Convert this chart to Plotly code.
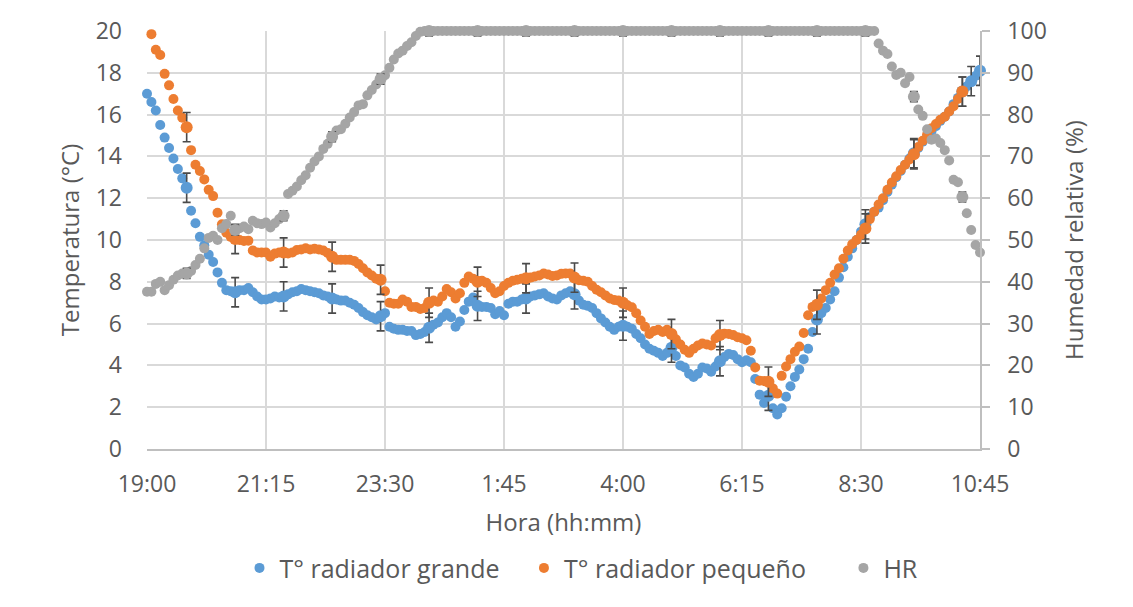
import plotly.graph_objects as go

# Minutes elapsed since 19:00 (sampling every 5 minutes)
minutos = list(range(0, 950, 5))

tick_vals = [0, 135, 270, 405, 540, 675, 810, 945]
tick_text = ["19:00", "21:15", "23:30", "1:45", "4:00", "6:15", "8:30", "10:45"]

t_grande = [
    17.0, 16.6, 16.2, 15.5, 14.9, 14.4, 13.9, 13.4, 12.95, 12.5,
    11.4, 10.8, 10.15, 9.75, 9.3, 8.95, 8.45, 7.95, 7.6, 7.55,
    7.5, 7.6, 7.6, 7.7, 7.5, 7.3, 7.15, 7.15, 7.2, 7.3,
    7.25, 7.3, 7.4, 7.5, 7.55, 7.65, 7.6, 7.55, 7.5, 7.45,
    7.35, 7.3, 7.2, 7.15, 7.1, 7.1, 7.0, 6.9, 6.75, 6.55,
    6.4, 6.3, 6.2, 6.35, 6.5, 5.85, 5.75, 5.7, 5.7, 5.65,
    5.65, 5.45, 5.5, 5.6, 5.8, 5.95, 6.05, 6.3, 6.5, 6.3,
    5.85, 6.1, 6.65, 7.05, 7.25, 6.85, 6.8, 6.8, 6.75, 6.45,
    6.6, 6.4, 6.95, 7.05, 7.05, 7.15, 7.2, 7.3, 7.35, 7.4,
    7.45, 7.3, 7.2, 7.15, 7.35, 7.45, 7.55, 7.4, 7.1, 6.9,
    6.85, 6.75, 6.5, 6.25, 6.05, 5.85, 5.7, 5.85, 5.9, 5.85,
    5.75, 5.5, 5.3, 5.0, 4.8, 4.7, 4.6, 4.45, 4.6, 4.85,
    4.45, 4.0, 3.9, 3.6, 3.45, 3.6, 3.9, 3.85, 3.7, 3.95,
    4.2, 4.4, 4.55, 4.5, 4.3, 4.15, 4.25, 4.15, 3.35, 2.6,
    2.2, 2.55, 1.95, 1.65, 1.95, 2.5, 3.0, 3.45, 3.8, 4.3,
    4.8, 5.6, 6.2, 6.5, 6.75, 7.15, 7.55, 8.2, 8.7, 9.2,
    9.6, 10.0, 10.4, 10.75, 11.1, 11.35, 11.55, 11.9, 12.3, 12.65,
    13.0, 13.3, 13.6, 13.9, 14.15, 14.4, 14.7, 14.95, 15.2, 15.45,
    15.7, 15.9, 16.15, 16.5, 16.8, 17.1, 17.35, 17.6, 17.85, 18.1,
]

t_pequeno = [
    None, 19.85, 19.1, 18.85, 17.95, 17.4, 16.75, 16.2, 15.85, 15.4,
    14.3, 13.6, 13.3, 12.9, 12.4, 12.1, 11.3, 10.75, 10.35, 10.15,
    10.05, 10.0, 9.95, 9.97, 9.5, 9.4, 9.4, 9.4, 9.2, 9.35,
    9.4, 9.4, 9.36, 9.4, 9.52, 9.55, 9.6, 9.55, 9.58, 9.55,
    9.5, 9.38, 9.2, 9.05, 9.05, 9.05, 9.05, 9.0, 8.85, 8.65,
    8.45, 8.3, 8.15, 8.1, 7.55, 7.0, 6.95, 6.95, 7.15, 7.05,
    6.8, 6.8, 6.7, 6.75, 7.0, 7.1, 7.05, 7.3, 7.65, 7.5,
    7.2, 7.45, 7.95, 8.25, 8.15, 8.0, 8.05, 7.95, 7.7, 7.45,
    7.55, 7.8, 7.95, 8.05, 8.1, 8.15, 8.17, 8.2, 8.25, 8.3,
    8.4, 8.35, 8.28, 8.3, 8.38, 8.4, 8.4, 8.2, 8.08, 8.05,
    8.0, 7.8, 7.62, 7.5, 7.35, 7.2, 7.13, 7.1, 7.0, 6.88,
    6.78, 6.5, 6.15, 5.85, 5.5, 5.65, 5.7, 5.6, 5.7, 5.5,
    5.25, 5.0, 4.75, 4.6, 4.8, 4.95, 5.05, 5.0, 4.95, 5.3,
    5.45, 5.52, 5.5, 5.45, 5.35, 5.3, 5.2, 4.7, 3.9, 3.27,
    3.25, 3.22, 2.9, 2.65, 3.5, 3.95, 4.3, 4.65, 4.9, 5.55,
    6.4, 6.8, 6.9, 7.2, 7.6, 7.95, 8.35, 8.65, 9.1, 9.5,
    9.8, 10.0, 10.25, 10.55, 11.0, 11.35, 11.7, 12.0, 12.4, 12.75,
    13.05, 13.35, 13.6, 13.85, 14.1, 14.45, 14.75, 15.05, 15.35, 15.55,
    15.75, 15.9, 16.15, 16.4, 16.75, 17.1, None, None, None, None,
]

hr = [
    37.6, 37.6, 39.5, 40.0, 38.0, 39.2, 40.5, 41.5, 42.0, 42.0,
    42.6, 44.0, 45.5, 48.0, 50.5, 51.0, 50.0, 52.8, 53.8, 55.8,
    52.4, 52.8, 53.2, 52.6, 54.6, 54.0, 53.8, 54.2, 53.0, 54.0,
    55.0, 55.8, 61.0, 61.8, 62.8, 64.3, 65.5, 67.3, 68.8, 70.0,
    71.8, 73.0, 74.7, 76.2, 76.5, 77.8, 79.3, 80.6, 82.2, 82.5,
    84.6, 85.9, 87.2, 88.5, 89.4, 91.2, 93.2, 94.6, 95.3, 96.4,
    97.3, 98.8, 99.8, 100, 100, 100, 100, 100, 100, 100,
    100, 100, 100, 100, 100, 100, 100, 100, 100, 100,
    100, 100, 100, 100, 100, 100, 100, 100, 100, 100,
    100, 100, 100, 100, 100, 100, 100, 100, 100, 100,
    100, 100, 100, 100, 100, 100, 100, 100, 100, 100,
    100, 100, 100, 100, 100, 100, 100, 100, 100, 100,
    100, 100, 100, 100, 100, 100, 100, 100, 100, 100,
    100, 100, 100, 100, 100, 100, 100, 100, 100, 100,
    100, 100, 100, 100, 100, 100, 100, 100, 100, 100,
    100, 100, 100, 100, 100, 100, 100, 100, 100, 100,
    100, 100, 100, 100, 100, 100, 97.0, 95.3, 94.5, 91.5,
    89.5, 90.0, 87.5, 89.0, 84.3, 81.2, 79.7, 76.5, 74.0, 74.3,
    73.2, 71.5, 69.0, 64.4, 63.8, 60.3, 56.4, 52.4, 48.8, 47.0,
]

# Points that carry error bars (sample index), and error bar sizes
idx_err = [9, 20, 31, 42, 53, 64, 75, 86, 97, 108, 119, 130, 141, 152, 163, 174, 185]
idx_err_grande_extra = [187, 189]
err_grande = 0.7
err_pequeno = 0.7
err_hr = 1.2

nombres = ["T° radiador grande", "T° radiador pequeño", "HR"]

BLUE = "#5B9BD5"
ORANGE = "#ED7D31"
GREY = "#A5A5A5"
TXT = "#595959"
GRID = "#D9D9D9"
AXIS = "#BFBFBF"
ERRC = "#4A4A4A"

NB = "\u00a0"
legend_pad = [NB * 3, NB * 5, ""]

fig = go.Figure()

series = [
    (t_grande, BLUE, "y", err_grande, idx_err + idx_err_grande_extra),
    (t_pequeno, ORANGE, "y", err_pequeno, idx_err),
    (hr, GREY, "y2", err_hr, idx_err),
]

for k, (vals, color, yax, err, idxs) in enumerate(series):
    fig.add_trace(go.Scatter(
        x=minutos, y=vals, mode="markers", name=nombres[k] + legend_pad[k], yaxis=yax,
        marker=dict(color=color, size=10, line=dict(width=0)),
        cliponaxis=False,
    ))
    xs = [minutos[i] for i in idxs if vals[i] is not None]
    ys = [vals[i] for i in idxs if vals[i] is not None]
    fig.add_trace(go.Scatter(
        x=xs, y=ys, mode="markers", name=nombres[k], yaxis=yax, showlegend=False,
        marker=dict(color=color, size=12, line=dict(width=0)),
        error_y=dict(type="constant", value=err, color=ERRC, thickness=1.6, width=4),
        cliponaxis=False,
    ))

fig.update_layout(
    width=1125, height=599,
    margin=dict(l=139, r=153, t=23, b=158),
    paper_bgcolor="white", plot_bgcolor="white",
    font=dict(family="Open Sans", color=TXT, size=23),
    showlegend=True,
    legend=dict(orientation="h", x=0.5216, xanchor="center", y=-0.285, yanchor="middle",
                font=dict(size=25, color=TXT), traceorder="normal"),
    xaxis=dict(
        range=[0, 945], tickvals=tick_vals, ticktext=tick_text,
        showgrid=True, gridcolor=GRID, gridwidth=1.5,
        showline=True, linecolor=AXIS, linewidth=1.5,
        zeroline=False, ticks="", ticklabelstandoff=14,
        tickfont=dict(size=23, color=TXT),
        title=dict(text="Hora (hh:mm)", font=dict(size=24, color=TXT), standoff=16),
        automargin=False,
    ),
    yaxis=dict(
        range=[0, 20], dtick=2, showgrid=True, gridcolor=GRID, gridwidth=1.5,
        zeroline=False, showline=False, ticks="", ticklabelstandoff=24,
        tickfont=dict(size=23, color=TXT),
        title=dict(text="Temperatura (°C)", font=dict(size=24, color=TXT), standoff=9),
        automargin=False,
    ),
    yaxis2=dict(
        range=[0, 100], dtick=10, overlaying="y", side="right", showgrid=False,
        zeroline=False, showline=True, linecolor=AXIS, linewidth=1.5,
        ticks="outside", ticklen=8, tickcolor=AXIS, tickwidth=1.5, ticklabelstandoff=13,
        tickfont=dict(size=23, color=TXT),
        title=dict(text="Humedad relativa (%)", font=dict(size=24, color=TXT), standoff=20),
        automargin=False,
    ),
)

fig.write_html("out.html")
